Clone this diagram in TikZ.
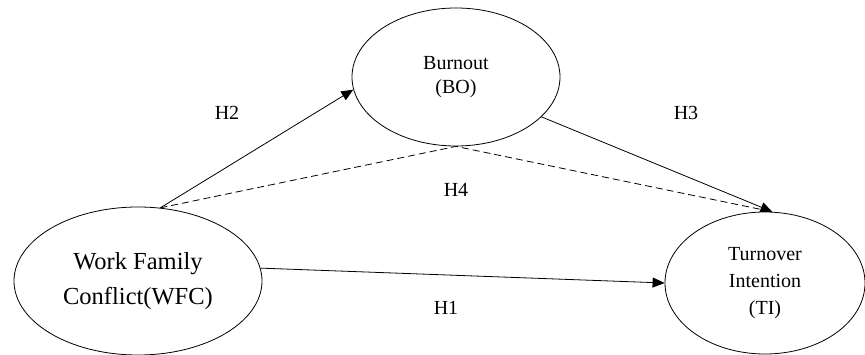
\documentclass[tikz,border=0pt]{standalone}
\usepackage{fontspec}
\setmainfont{Liberation Serif}
\usetikzlibrary{shapes.geometric,arrows.meta}
\begin{document}
\begin{tikzpicture}[x=1pt,y=-1pt,
  latent/.style={draw,ellipse,line width=0.8pt,inner sep=0pt,align=center},
  conn/.style={line width=0.8pt},
  tip/.style={-{Triangle[length=12pt,width=10pt]}},
  lbl/.style={font=\fontsize{20}{20}\selectfont}]
\useasboundingbox (0,0) rectangle (865,355);
\node[latent,minimum width=248pt,minimum height=148pt,font=\fontsize{24.5}{35}\selectfont] (wfc) at (138,281) {Work Family\\Conflict(WFC)};
\node[latent,minimum width=208pt,minimum height=138pt,font=\fontsize{20}{24}\selectfont] (bo) at (456,77) {Burnout\\(BO)};
\node[latent,minimum width=200pt,minimum height=142pt,font=\fontsize{20}{27}\selectfont] (ti) at (765,283) {Turnover\\Intention\\(TI)};
\draw[conn,tip] (wfc.73) -- (bo.187);
\draw[conn,tip] (bo.-25) -- (ti.84);
\draw[conn,dashed,dash pattern=on 7pt off 4pt] (wfc.73) -- (bo.south) -- (ti.84);
\draw[conn,tip] (wfc.6) -- (ti.west);
\node[lbl] (h2) at (227,113) {H2};
\node[lbl] (h3) at (686,113) {H3};
\node[lbl] (h4) at (456,190) {H4};
\node[lbl] (h1) at (446,308) {H1};
\end{tikzpicture}
\end{document}
